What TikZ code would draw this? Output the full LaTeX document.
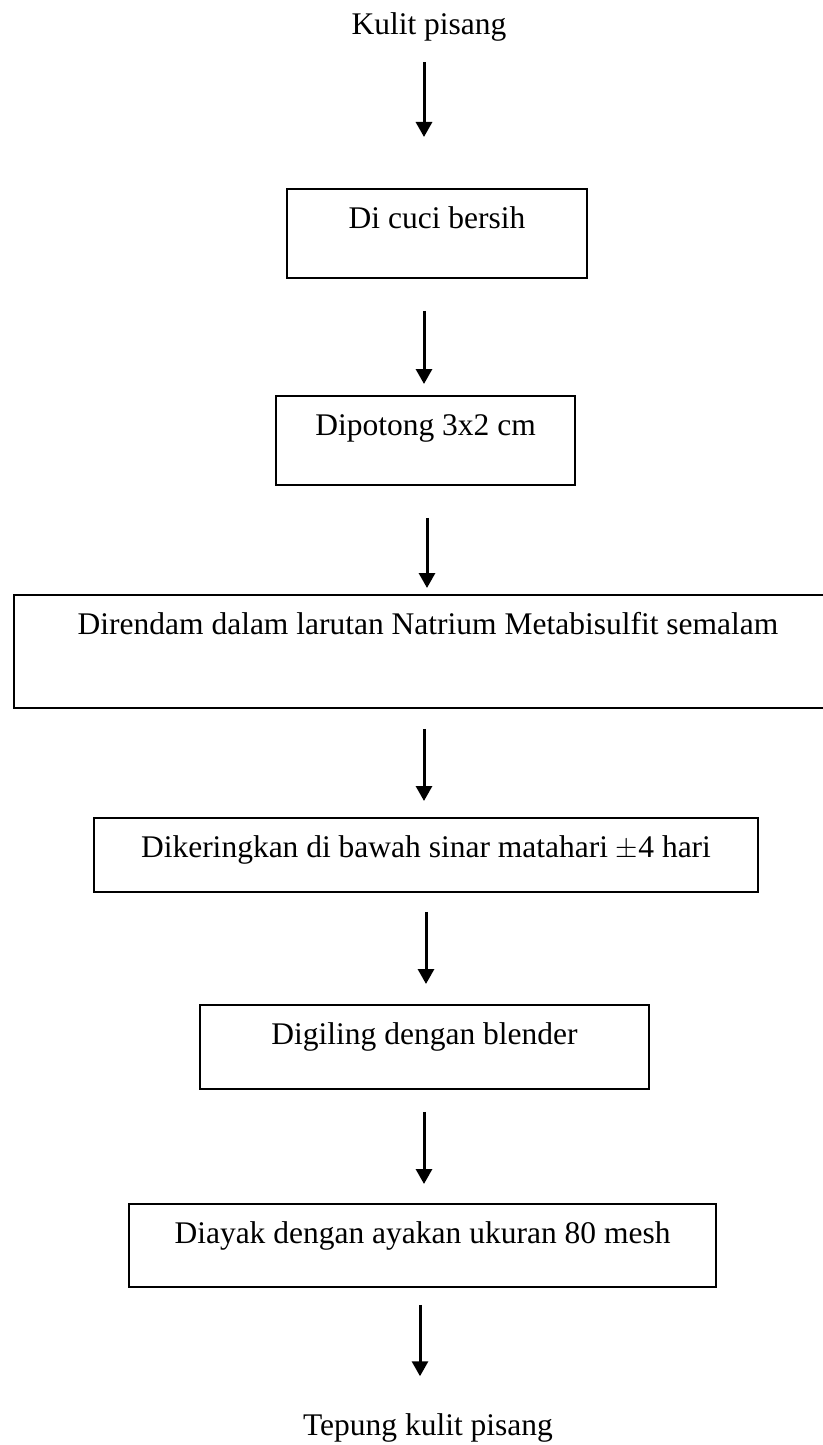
\documentclass[tikz,border=0pt]{standalone}
\usepackage{fontspec}
\setmainfont{Liberation Serif}
\usetikzlibrary{arrows.meta}
\tikzset{
  proc/.style={draw,line width=0.9pt,inner sep=0pt,anchor=north,text height=20pt,font=\fontsize{15.75}{19}\selectfont},
  lbl/.style={inner sep=0pt,anchor=base,font=\fontsize{15.75}{19}\selectfont},
  arr/.style={-{Triangle[length=7.5pt,width=8pt]},line width=1.5pt},
}

\begin{document}
\begin{tikzpicture}[x=0.5pt,y=-0.5pt]
\useasboundingbox (0,0) rectangle (823,1445);
% steps, top to bottom
\node[lbl] (kulit) at (429,35) {Kulit pisang};
\node[proc,minimum width=150pt,text depth=24.5pt] (cuci) at (437,188) {Di cuci bersih};
\node[proc,minimum width=149.5pt,text depth=24.5pt] (potong) at (425.5,395) {Dipotong 3x2 cm};
\node[proc,minimum width=414pt,text depth=36.5pt] (rendam) at (428,594) {Direndam dalam larutan Natrium Metabisulfit semalam};
\node[proc,minimum width=332pt,text depth=17pt] (kering) at (426,817) {Dikeringkan di bawah sinar matahari $\pm$4 hari};
\node[proc,minimum width=224.5pt,text depth=22pt] (giling) at (424.5,1004) {Digiling dengan blender};
\node[proc,minimum width=293.5pt,text depth=21.5pt] (ayak) at (422.5,1203) {Diayak dengan ayakan ukuran 80 mesh};
\node[lbl] (tepung) at (428,1435) {Tepung kulit pisang};
% arrows
\coordinate (ax) at (424,0);
\draw[arr,shorten <=10pt,shorten >=25.5pt] (ax |- kulit.south) -- (ax |- cuci.north);
\draw[arr,shorten <=16pt,shorten >=5.5pt] (ax |- cuci.south) -- (ax |- potong.north);
\draw[arr,shorten <=16pt,shorten >=3pt] ([xshift=1.5pt]ax |- potong.south) -- ([xshift=1.5pt]ax |- rendam.north);
\draw[arr,shorten <=10pt,shorten >=8pt] (ax |- rendam.south) -- (ax |- kering.north);
\draw[arr,shorten <=9.5pt,shorten >=10pt] ([xshift=1pt]ax |- kering.south) -- ([xshift=1pt]ax |- giling.north);
\draw[arr,shorten <=11pt,shorten >=9.5pt] (ax |- giling.south) -- (ax |- ayak.north);
\draw[arr,shorten <=8.5pt,shorten >=18.25pt] ([xshift=-2pt]ax |- ayak.south) -- ([xshift=-2pt]ax |- tepung.north);
\end{tikzpicture}
\end{document}
